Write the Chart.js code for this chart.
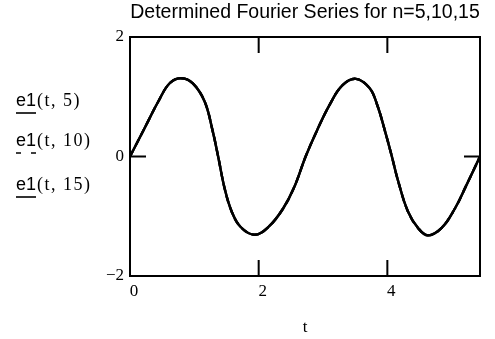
<!DOCTYPE html>
<html>
<head>
<meta charset="utf-8">
<script src="https://cdn.jsdelivr.net/npm/chart.js@4"></script>
<style>
  html, body { margin: 0; padding: 0; background: #fff; }
</style>
</head>
<body>
<canvas id="fourier" width="495" height="339"></canvas>
<script>
// sample points of the partial sums e1(t, n), t from 0 to ~2e
const tValues = [0, 0.22, 0.44, 0.62, 0.80, 0.98, 1.16, 1.28, 1.37, 1.47, 1.58, 1.72, 1.94,
  2.16, 2.38, 2.55, 2.73, 2.90, 3.10, 3.30, 3.51, 3.72, 3.84, 3.97, 4.07, 4.17, 4.32, 4.48,
  4.63, 4.84, 5.05, 5.22, 5.44];
const e1n5 = [0, 0.46, 0.92, 1.23, 1.31, 1.22, 0.92, 0.45, 0, -0.53, -0.92, -1.18, -1.31,
  -1.17, -0.87, -0.52, 0, 0.42, 0.86, 1.19, 1.30, 1.15, 0.87, 0.40, 0, -0.42, -0.92, -1.20,
  -1.32, -1.20, -0.87, -0.50, 0];
const e1n10 = [0, 0.46, 0.92, 1.23, 1.31, 1.22, 0.92, 0.45, 0, -0.53, -0.92, -1.18, -1.31,
  -1.17, -0.87, -0.52, 0, 0.42, 0.86, 1.19, 1.30, 1.15, 0.87, 0.40, 0, -0.42, -0.92, -1.20,
  -1.32, -1.20, -0.87, -0.50, 0];
const e1n15 = [0, 0.46, 0.92, 1.23, 1.31, 1.22, 0.92, 0.45, 0, -0.53, -0.92, -1.18, -1.31,
  -1.17, -0.87, -0.52, 0, 0.42, 0.86, 1.19, 1.30, 1.15, 0.87, 0.40, 0, -0.42, -0.92, -1.20,
  -1.32, -1.20, -0.87, -0.50, 0];
const harmonics = [5, 10, 15];
const xTicks = [0, 2, 4];
const yTicks = [-2, 0, 2];
const xMax = 5.44;

const serif = '"Liberation Serif", "Times New Roman", serif';
const sans = '"Liberation Sans", Arial, sans-serif';

const toPoints = ys => tValues.map((t, i) => ({ x: t, y: ys[i] }));
const series = [e1n5, e1n10, e1n15];
const dashes = [[], [7, 5], []];

// Mathcad style frame: box, inward ticks and the trace names on the left
const framePlugin = {
  id: 'mathcadFrame',
  afterDraw(chart) {
    const { ctx, chartArea: a, scales: { x, y } } = chart;
    ctx.save();
    ctx.strokeStyle = '#000';
    ctx.lineWidth = 2;
    ctx.strokeRect(a.left, a.top, a.right - a.left, a.bottom - a.top);

    const len = 16;
    ctx.beginPath();
    xTicks.forEach(v => {
      const px = x.getPixelForValue(v);
      ctx.moveTo(px, a.top); ctx.lineTo(px, a.top + len);
      ctx.moveTo(px, a.bottom); ctx.lineTo(px, a.bottom - len);
    });
    yTicks.forEach(v => {
      const py = y.getPixelForValue(v);
      ctx.moveTo(a.left, py); ctx.lineTo(a.left + len, py);
      ctx.moveTo(a.right, py); ctx.lineTo(a.right - len, py);
    });
    ctx.stroke();

    const baselines = [106, 146, 190];
    ctx.fillStyle = '#000';
    ctx.textBaseline = 'alphabetic';
    harmonics.forEach((n, i) => {
      const by = baselines[i];
      ctx.font = '18px ' + sans;
      ctx.letterSpacing = '0px';
      ctx.fillText('e1', 16, by);
      const w = ctx.measureText('e1').width;
      ctx.font = '18px ' + serif;
      ctx.letterSpacing = '1.5px';
      ctx.fillText('(t, ' + n + ')', 16 + w + 1, by);
      ctx.lineWidth = 1.6;
      ctx.setLineDash(i === 1 ? [5, 10] : []);
      ctx.beginPath();
      ctx.moveTo(16, by + 7);
      ctx.lineTo(16 + w, by + 7);
      ctx.stroke();
      ctx.setLineDash([]);
    });
    ctx.restore();
  }
};

new Chart(document.getElementById('fourier'), {
  type: 'line',
  data: {
    datasets: series.map((ys, i) => ({
      label: 'e1(t, ' + harmonics[i] + ')',
      data: toPoints(ys),
      borderColor: '#000',
      borderWidth: 2.4,
      borderDash: dashes[i],
      pointRadius: 0,
      fill: false,
      tension: 0.4
    }))
  },
  options: {
    responsive: false,
    animation: false,
    layout: { padding: { left: 90, right: 15, top: 0, bottom: 0 } },
    plugins: {
      legend: { display: false },
      tooltip: { enabled: false },
      title: {
        display: true,
        fullSize: false,
        text: 'Determined Fourier Series for n=5,10,15',
        color: '#000',
        font: { family: sans, size: 19.5, weight: 'normal' },
        padding: { top: 1.3, bottom: 12.3 }
      }
    },
    scales: {
      x: {
        type: 'linear',
        min: 0,
        max: xMax,
        afterBuildTicks: s => { s.ticks = xTicks.map(v => ({ value: v })); },
        afterFit: s => { s.height = 63; },
        grid: { display: false, drawTicks: false },
        border: { display: false },
        ticks: {
          color: '#000',
          font: { family: serif, size: 17 },
          padding: 5,
          labelOffset: 4,
          maxRotation: 0
        },
        title: {
          display: true,
          text: 't',
          color: '#000',
          font: { family: serif, size: 17 },
          padding: { top: 0, bottom: 1 }
        }
      },
      y: {
        type: 'linear',
        min: -2,
        max: 2,
        afterBuildTicks: s => { s.ticks = yTicks.map(v => ({ value: v })); },
        afterFit: s => { s.width = 40; },
        grid: { display: false, drawTicks: false },
        border: { display: false },
        ticks: {
          color: '#000',
          font: { family: serif, size: 17 },
          padding: 6,
          callback: v => (v < 0 ? '\u2212' : '') + Math.abs(v)
        }
      }
    }
  },
  plugins: [framePlugin]
});
</script>
</body>
</html>
